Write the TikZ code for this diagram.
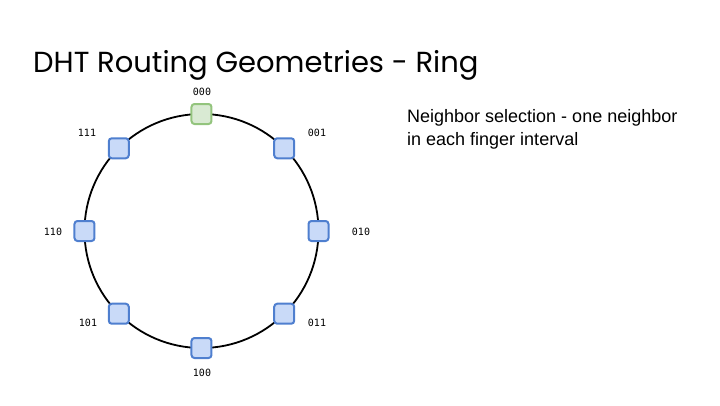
\documentclass[tikz,border=0pt]{standalone}
\usepackage{fontspec}
\setmainfont{Liberation Sans}
\newfontfamily\titlefont{Poppins}
\setmonofont{DejaVu Sans Mono}
\definecolor{nodeblue}{HTML}{C9DAF8}
\definecolor{edgeblue}{HTML}{4F7FCF}
\definecolor{nodegreen}{HTML}{D9EAD3}
\definecolor{edgegreen}{HTML}{93C47D}
\tikzset{
  peer/.style={rectangle, rounded corners=3pt, minimum size=20pt, inner sep=0pt, line width=2pt, fill=nodeblue, draw=edgeblue},
  home/.style={peer, fill=nodegreen, draw=edgegreen},
  idlabel/.style={font=\ttfamily\fontsize{10}{10}\selectfont, inner sep=0pt}
}
\begin{document}
\begin{tikzpicture}[x=1pt, y=1pt]
    \def\ringr{117}
    \useasboundingbox (-201.5,-174) rectangle (518.5,231);

    % Title
    \node[anchor=base west, inner sep=0pt, font=\titlefont\fontsize{29}{34}\selectfont] (title) at (-168.5,159) {DHT Routing Geometries - Ring};

    % The ring
    \draw[line width=1.8pt] (0,0) circle (\ringr);

    \node[home] (n000) at (90:\ringr) {};
    \node[peer] (n001) at (45:\ringr) {};
    \node[peer] (n010) at (0:\ringr) {};
    \node[peer] (n011) at (-45:\ringr) {};
    \node[peer] (n100) at (-90:\ringr) {};
    \node[peer] (n101) at (-135:\ringr) {};
    \node[peer] (n110) at (180:\ringr) {};
    \node[peer] (n111) at (135:\ringr) {};

    % Identifiers
    \node[idlabel] (l000) at (0.5,139) {000};
    \node[idlabel] (l001) at (115.5,98) {001};
    \node[idlabel] (l010) at (159.5,-1) {010};
    \node[idlabel] (l011) at (115.5,-92) {011};
    \node[idlabel] (l100) at (0.5,-142) {100};
    \node[idlabel] (l101) at (-113.5,-92) {101};
    \node[idlabel] (l110) at (-148.5,-1) {110};
    \node[idlabel] (l111) at (-114.5,98) {111};

    \node[anchor=base west, inner sep=0pt, align=left, font=\fontsize{18}{23}\selectfont] (note) at (205.5,86) {Neighbor selection - one neighbor\\in each finger interval};
\end{tikzpicture}
\end{document}
